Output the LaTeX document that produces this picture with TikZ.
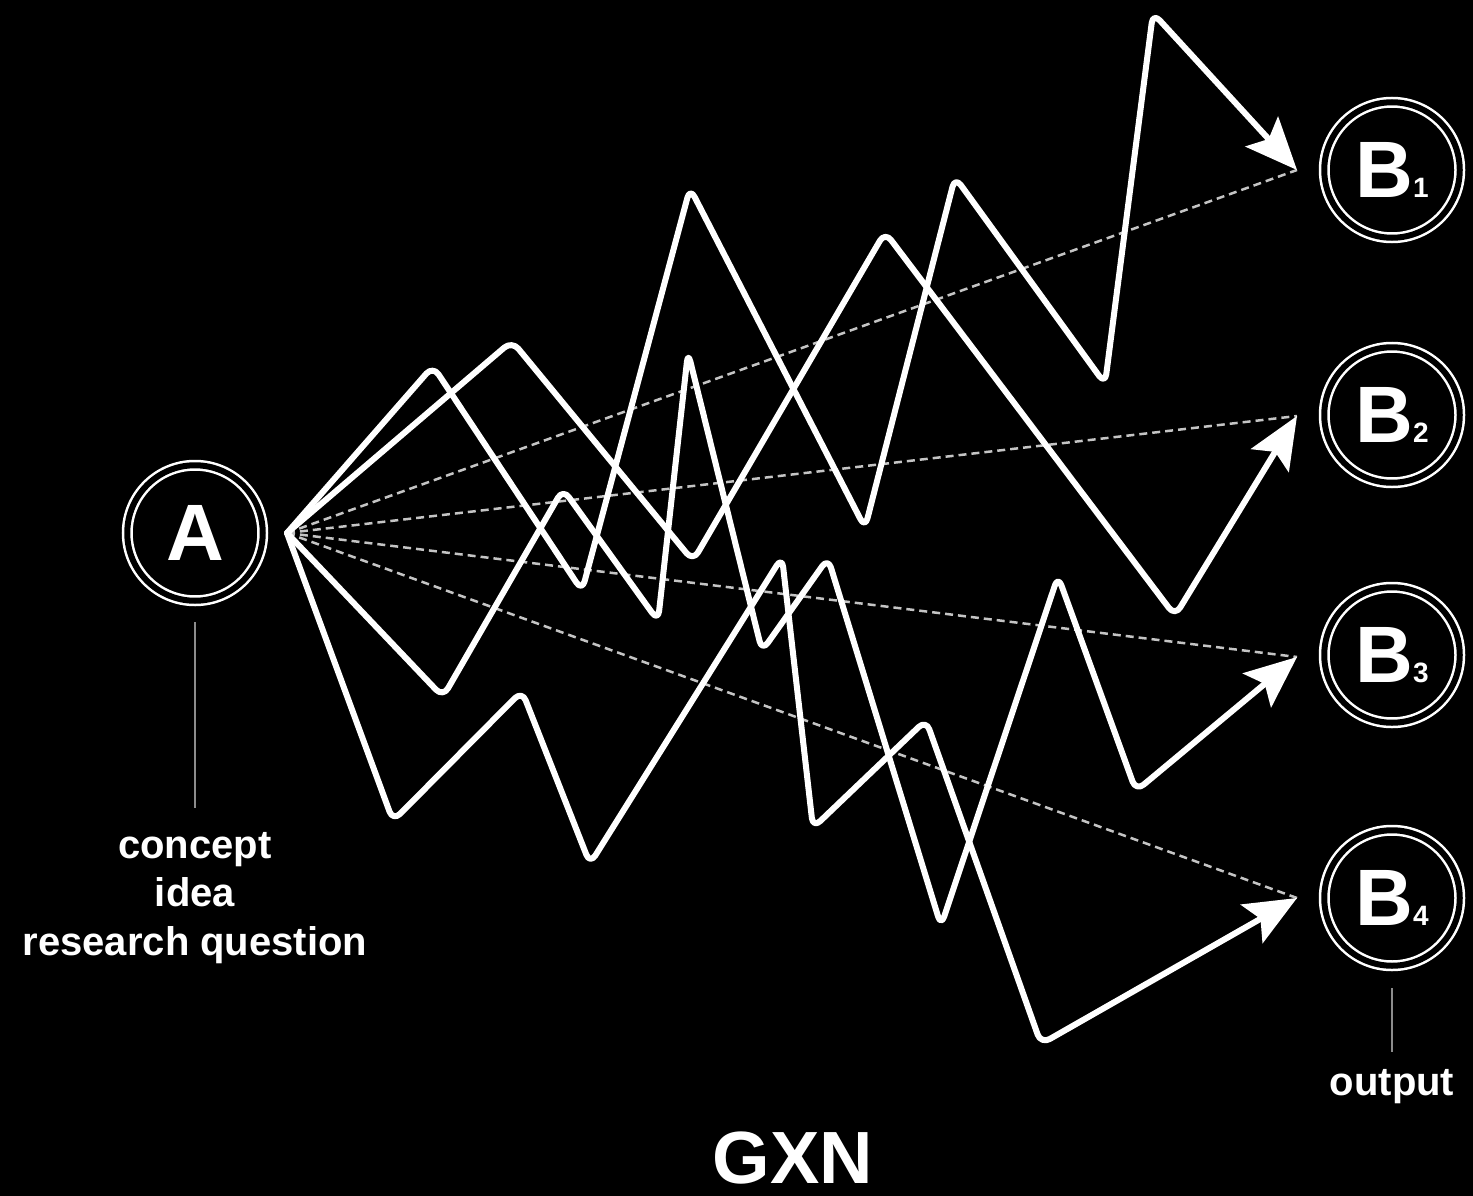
\documentclass[tikz,border=0pt]{standalone}
\usepackage{fontspec}
\setmainfont{Liberation Sans}
\usetikzlibrary{arrows.meta,calc}
\definecolor{guidegray}{HTML}{C4C4C4}
\definecolor{stemgray}{HTML}{8C8C8C}
\newcommand\bsub[1]{{\fontsize{28pt}{28pt}\selectfont#1}}
\begin{document}
\begin{tikzpicture}[x=1pt,y=-1pt,
  ring/.style={circle, draw=white, line width=2.5pt, double=black,
    double distance=6pt, minimum size=135.5pt, inner sep=0pt, text=white,
    font=\bfseries\fontsize{80pt}{80pt}\selectfont},
  zig/.style={draw=white, line width=6pt, rounded corners=10pt,
    line join=round, line cap=round,
    -{Stealth[length=52pt,width=44pt,inset=10pt]}},
  guide/.style={draw=guidegray, line width=2.5pt, dash pattern=on 8pt off 5pt},
  stem/.style={draw=stemgray, line width=2.5pt},
  txt/.style={text=white, inner sep=0pt, align=center,
    font=\bfseries\fontsize{40pt}{48.5pt}\selectfont}]

% canvas
\fill[black] (0,0) rectangle (1473,1196);
\useasboundingbox (0,0) rectangle (1473,1196);

% start and end nodes
\node[ring] (A)  at (195,533)  {A};
\node[ring] (B1) at (1392,170) {B\bsub{1}};
\node[ring] (B2) at (1392,415) {B\bsub{2}};
\node[ring] (B3) at (1392,655) {B\bsub{3}};
\node[ring] (B4) at (1392,898) {B\bsub{4}};

% captions (base anchor sits on the last line)
\node[txt, anchor=base] (cap) at (195,955) {concept\\idea\\research question};
\node[txt, anchor=base] (out) at (1392,1095) {output};
\node[txt, anchor=base, font=\bfseries\fontsize{74pt}{74pt}\selectfont] (gxn) at (793,1183) {GXN};

% caption stems
\coordinate (a-top) at (195,622);
\coordinate (a-bot) at (195,808);
\coordinate (b-top) at (1392,988);
\coordinate (b-bot) at (1392,1052);
\draw[stem] (a-top) -- (a-bot);
\draw[stem] (b-top) -- (b-bot);

% departure point and arrival points
\coordinate (S) at ($(A.center)+(92,0)$);
\coordinate (t1) at ($(B1.center)+(-95,0)$);
\coordinate (t2) at ($(B2.center)+(-95,1)$);
\coordinate (t3) at ($(B3.center)+(-95,2)$);
\coordinate (t4) at ($(B4.center)+(-95,0)$);

% direct routes
\draw[guide] (S) -- (t1);
\draw[guide] (S) -- (t2);
\draw[guide] (S) -- (t3);
\draw[guide] (S) -- (t4);

% winding routes
\draw[zig] (S) -- (433,366) -- (582,591) -- (690,188) -- (865,528)
  -- (955,177) -- (1105,384) -- (1153,13) -- (t1);
\draw[zig] (S) -- (512,341) -- (693,561) -- (885,232) -- (1175,616) -- (t2);
\draw[zig] (S) -- (443,697) -- (563,489) -- (658,621) -- (688,352)
  -- (762,651) -- (828,558) -- (941,926) -- (1058,576) -- (1136,791) -- (t3);
\draw[zig] (S) -- (393,821) -- (522,691) -- (590,864) -- (782,557)
  -- (813,828) -- (926,720) -- (1041,1044) -- (t4);
\end{tikzpicture}
\end{document}
